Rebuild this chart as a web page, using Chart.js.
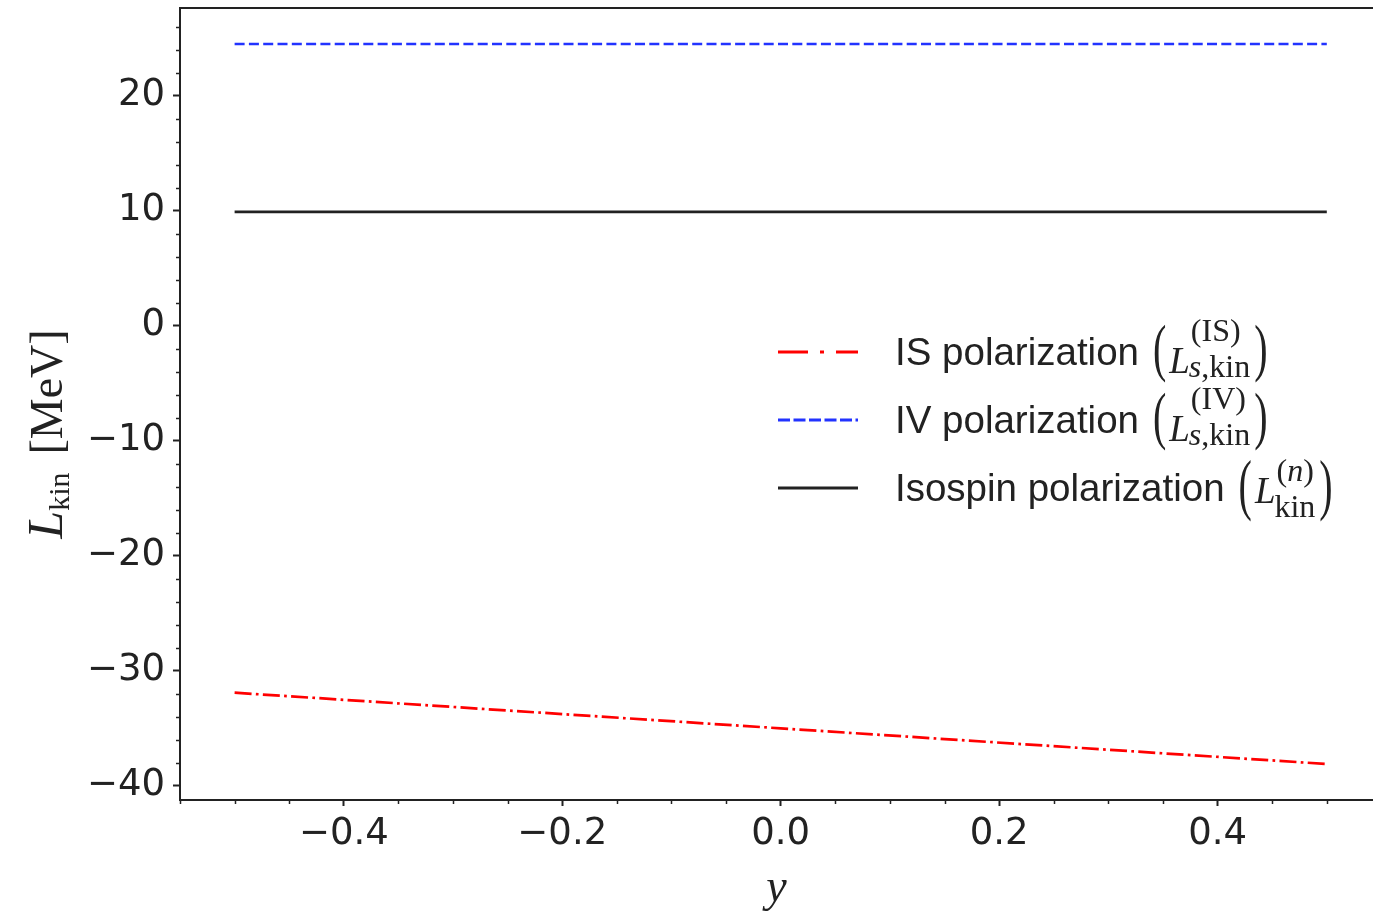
<!DOCTYPE html>
<html><head><meta charset="utf-8">
<script src="https://cdn.jsdelivr.net/npm/chart.js@4/dist/chart.umd.min.js"></script>
<style>html,body{margin:0;padding:0;background:#fff;}canvas{display:block}</style>
</head><body>
<canvas id="c" width="1373" height="912" style="width:1373px;height:912px"></canvas>
<script>
// ---- data ----
const lineX = [-0.5, 0.5];
const isX = [-0.5, 0.0, 0.5];
const isY = [-31.9, -35.0, -38.1];      // IS polarization
const ivY = [24.5, 24.5];               // IV polarization
const isoY = [9.9, 9.9];                // Isospin polarization
const xTicks = [-0.4, -0.2, 0.0, 0.2, 0.4];
const yTicks = [-40, -30, -20, -10, 0, 10, 20];
const legendLabels = ['IS polarization', 'IV polarization', 'Isospin polarization'];
const legendSup = ['(IS)', '(IV)', '(*n*)'];
const legendSub = ['*s*,kin', '*s*,kin', 'kin'];
const yTitleVar = 'L', yTitleSub = 'kin', yTitleUnit = '[MeV]';
const xTitle = 'y';

// ---- styles ----
const AX = '#222';
const COLORS = ['#ff0000', '#2233ff', '#222222'];
const legendDash = [[30, 12, 4, 12], [12, 3.5], []];

const fmtX = v => (Math.abs(v) < 1e-9 ? 0 : v).toFixed(1).replace('-', '\u2212');
const fmtY = v => String(v).replace('-', '\u2212');

const minorTicks = {
  id: 'minorTicks',
  afterDraw(chart) {
    const c = chart.ctx, x = chart.scales.x, y = chart.scales.y, a = chart.chartArea;
    c.save(); c.strokeStyle = AX; c.lineWidth = 1.5;
    for (let v = -42; v <= 28; v += 2) {
      if (v % 10 === 0 || v < y.min || v > y.max) continue;
      const p = Math.round(y.getPixelForValue(v)) + 0.5;
      c.beginPath(); c.moveTo(a.left - 4, p); c.lineTo(a.left, p); c.stroke();
    }
    for (let k = -12; k <= 12; k++) {
      const v = k * 0.05;
      if (k % 4 === 0 || v < x.min - 1e-9 || v > x.max) continue;
      const p = Math.round(x.getPixelForValue(v)) + 0.5;
      c.beginPath(); c.moveTo(p, a.bottom); c.lineTo(p, a.bottom + 4); c.stroke();
    }
    // top spine
    c.lineWidth = 2;
    c.beginPath(); c.moveTo(a.left - 1, a.top); c.lineTo(a.right, a.top); c.stroke();
    c.restore();
  }
};

function drawSeg(c, txt, x, y, size) {
  // '*...*' marks italic parts
  const parts = txt.split('*');
  parts.forEach((p, i) => {
    if (!p) return;
    c.font = (i % 2 ? 'italic ' : '') + size + 'px "Liberation Serif"';
    c.fillText(p, x, y);
    x += c.measureText(p).width;
  });
  return x;
}

function drawParen(c, ch, x, cy, h) {
  c.save();
  c.font = '40px "Liberation Serif"';
  const m = c.measureText(ch);
  const asc = m.actualBoundingBoxAscent, des = m.actualBoundingBoxDescent;
  const s = h / (asc + des);
  c.translate(x, cy);
  c.scale(1, s);
  c.fillText(ch, 0, (asc - des) / 2);
  c.restore();
  return x + m.width;
}

const yTitlePlugin = {
  id: 'yTitle',
  afterDraw(chart) {
    const c = chart.ctx;
    c.save(); c.fillStyle = AX; c.textBaseline = 'alphabetic';
    const fL = 'italic 50px "Liberation Serif"', fS = '30px "Liberation Serif"', fU = '46px "Liberation Serif"';
    c.font = fL; const wL = c.measureText(yTitleVar).width;
    c.font = fS; const wS = c.measureText(yTitleSub).width;
    c.font = fU; const wU = c.measureText(yTitleUnit).width;
    const gap = 18;
    const total = wL + wS + gap + wU;
    c.translate(62, 434 + total / 2);
    c.rotate(-Math.PI / 2);
    c.font = fL; c.fillText(yTitleVar, 0, 0);
    c.font = fS; c.fillText(yTitleSub, wL, 7);
    c.font = fU; c.fillText(yTitleUnit, wL + wS + gap, 0);
    c.restore();
  }
};

const mathLegend = {
  id: 'mathLegend',
  afterDraw(chart) {
    const c = chart.ctx;
    const top = 352, step = 68;
    const Loff = [21, 21, 15], supOff = [-11, -11, -7], subOff = [25, 25, 29];
    const parH = [58, 58, 63], parOff = [2, 2, 3];
    chart.data.datasets.forEach((ds, i) => {
      const y = top + i * step;
      c.save();
      c.strokeStyle = ds.borderColor; c.lineWidth = 2.8; c.setLineDash(legendDash[i]);
      c.beginPath(); c.moveTo(778, y); c.lineTo(858, y); c.stroke();
      c.setLineDash([]);
      c.fillStyle = AX; c.textBaseline = 'alphabetic';
      c.font = '38.5px "Liberation Sans"';
      c.fillText(ds.label, 895, y + 13);
      let x = 895 + c.measureText(ds.label).width + 14;
      x = drawParen(c, '(', x, y + parOff[i], parH[i]);
      c.font = 'italic 37px "Liberation Serif"';
      const Lx = x + 3;
      c.fillText('L', Lx, y + Loff[i]);
      const wL = c.measureText('L').width;
      const e1 = drawSeg(c, legendSup[i], Lx + wL + 1, y + supOff[i], 32);
      const e2 = drawSeg(c, legendSub[i], Lx + wL - 1, y + subOff[i], 32);
      drawParen(c, ')', Math.max(e1, e2) + 4, y + parOff[i], parH[i]);
      c.restore();
    });
  }
};

const mk = (xs, ys) => xs.map((x, i) => ({ x, y: ys[i] }));

new Chart(document.getElementById('c'), {
  type: 'line',
  data: {
    datasets: [
      { label: legendLabels[0], data: mk(isX, isY), borderColor: COLORS[0], borderWidth: 2.7, borderDash: [17, 4.3, 2.7, 4.3], pointRadius: 0, fill: false, tension: 0 },
      { label: legendLabels[1], data: mk(lineX, ivY), borderColor: COLORS[1], borderWidth: 2.7, borderDash: [10, 4.3], pointRadius: 0, fill: false, tension: 0 },
      { label: legendLabels[2], data: mk(lineX, isoY), borderColor: COLORS[2], borderWidth: 2.7, pointRadius: 0, fill: false, tension: 0 }
    ]
  },
  options: {
    responsive: false, animation: false, devicePixelRatio: 1,
    layout: { padding: { left: 0, right: 0, top: 8, bottom: 0 } },
    plugins: { legend: { display: false }, tooltip: { enabled: false } },
    scales: {
      x: {
        type: 'linear', min: -0.55, max: 0.5423,
        afterBuildTicks: s => { s.ticks = xTicks.map(v => ({ value: v })); },
        afterFit: s => { s.height = 112; s.paddingLeft = 0; s.paddingRight = 0; },
        grid: { drawOnChartArea: false, drawTicks: true, tickLength: 6, tickWidth: 2, tickColor: AX },
        border: { display: true, color: AX, width: 2 },
        ticks: { color: AX, font: { family: 'DejaVu Sans', size: 37 }, padding: 6, maxRotation: 0, autoSkip: false, includeBounds: false, callback: v => fmtX(v) },
        title: { display: true, text: xTitle, color: AX, font: { family: 'Liberation Serif', size: 46, style: 'italic', lineHeight: 1 }, padding: { top: 0, bottom: 0 } }
      },
      y: {
        type: 'linear', min: -41.23, max: 27.63,
        afterBuildTicks: s => { s.ticks = yTicks.map(v => ({ value: v })); },
        afterFit: s => { s.width = 180; s.paddingTop = 0; s.paddingBottom = 0; },
        grid: { drawOnChartArea: false, drawTicks: true, tickLength: 7, tickWidth: 2, tickColor: AX },
        border: { display: true, color: AX, width: 2 },
        ticks: { color: AX, font: { family: 'DejaVu Sans', size: 37 }, padding: 8, autoSkip: false, includeBounds: false, callback: v => fmtY(v) }
      }
    }
  },
  plugins: [minorTicks, yTitlePlugin, mathLegend]
});
</script>
</body></html>
